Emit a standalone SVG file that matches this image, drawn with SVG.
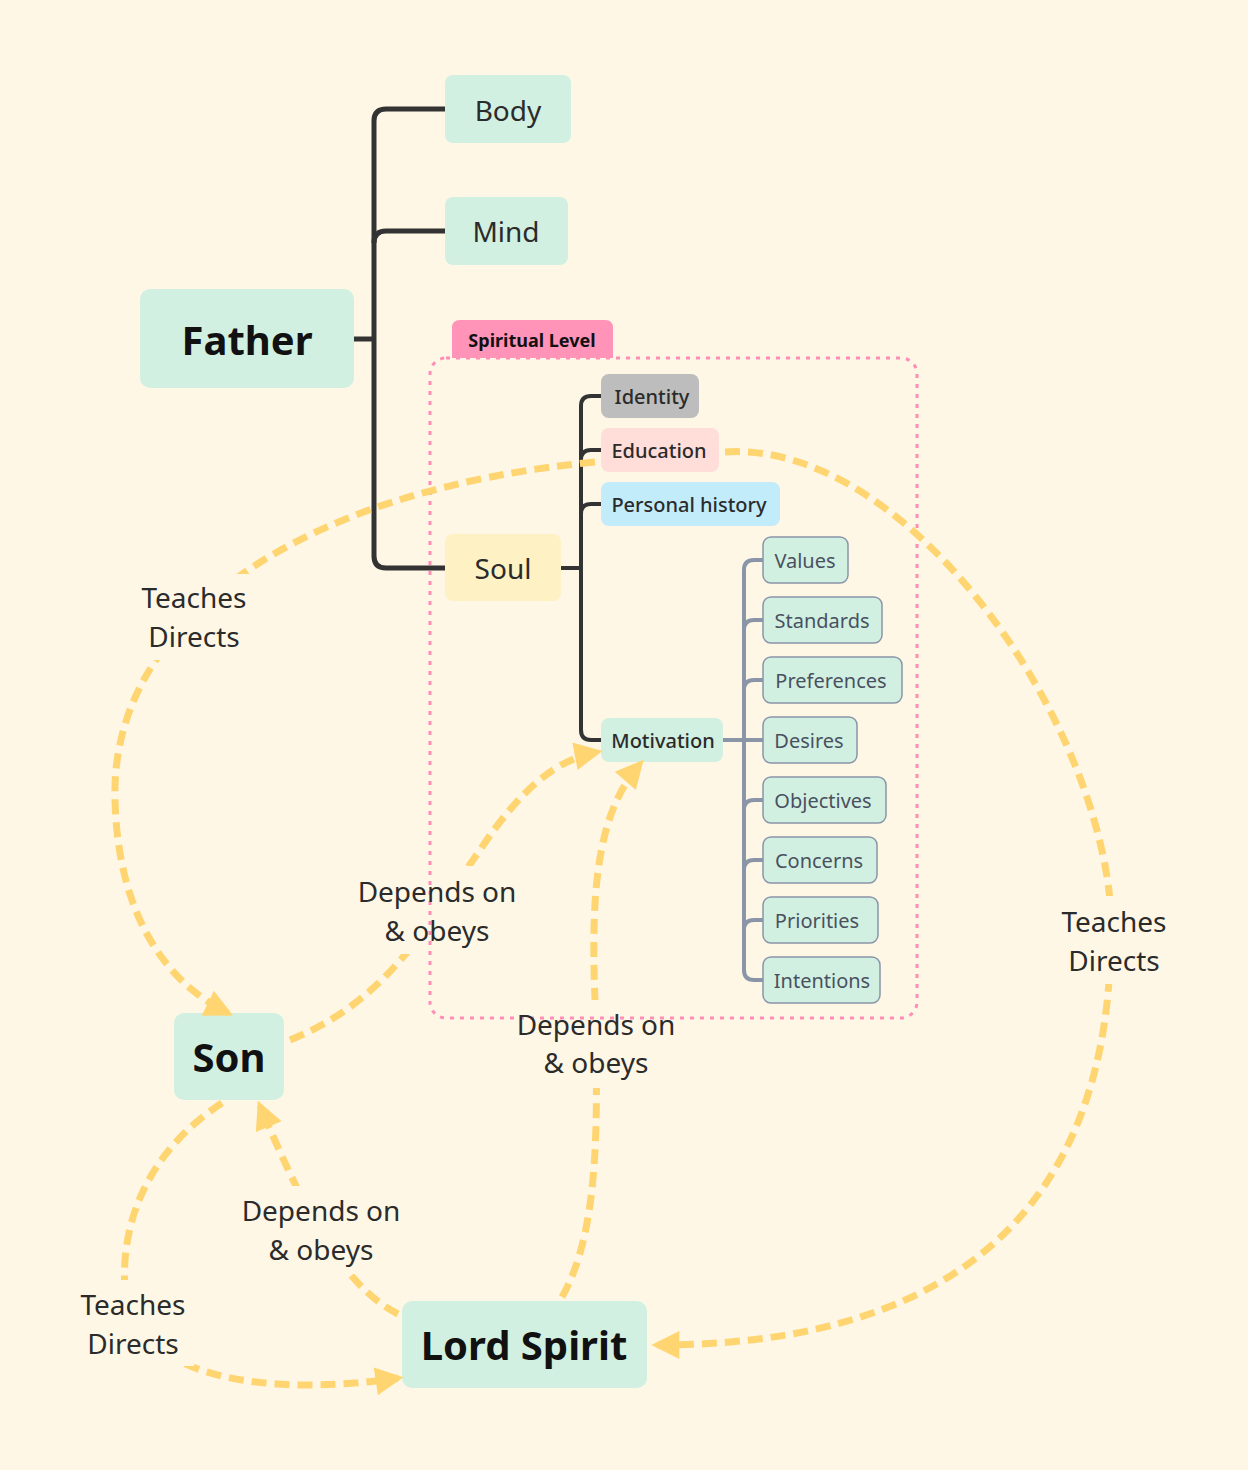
<svg xmlns="http://www.w3.org/2000/svg" width="1248" height="1470" viewBox="0 0 1248 1470">
<style>
text{font-family:"Noto Sans","Open Sans",sans-serif;text-anchor:middle;dominant-baseline:central;fill:#2b2b2b}
.main{fill:#D1F0E2}
.big{font-size:40px;font-weight:700;fill:#111}
.mid{font-size:28px}
.sm{font-size:20px;font-weight:500}
.leaf rect{fill:#D1F0E2;stroke:#8B95A8;stroke-width:1.5}
.leaf text{font-size:20px;fill:#4A5060}
.dk{fill:none;stroke:#333;stroke-width:5}
.dk2{fill:none;stroke:#333;stroke-width:4}
.gr{fill:none;stroke:#8B95A8;stroke-width:4}
.rel{fill:none;stroke:#FFD572;stroke-width:7;stroke-dasharray:15 8}
.lbl{font-size:28px;font-weight:400;fill:#2b2b2b}
</style>
<defs>
<marker id="ah" viewBox="0 0 10 10" refX="8" refY="5" markerWidth="32" markerHeight="28" markerUnits="userSpaceOnUse" orient="auto">
<path d="M0,0 L10,5 L0,10 z" fill="#FFD572"/>
</marker>
<mask id="lm" maskUnits="userSpaceOnUse" x="0" y="0" width="1248" height="1470">
<rect x="0" y="0" width="1248" height="1470" fill="#fff"/>
<rect x="130" y="574" width="128" height="86" fill="#000"/>
<rect x="350" y="866" width="175" height="88" fill="#000"/>
<rect x="508" y="1000" width="176" height="88" fill="#000"/>
<rect x="234" y="1186" width="176" height="88" fill="#000"/>
<rect x="72" y="1280" width="122" height="86" fill="#000"/>
<rect x="1052" y="896" width="124" height="88" fill="#000"/>
</mask>
</defs>
<rect x="0" y="0" width="1248" height="1470" fill="#FEF7E6"/>

<g id="boundary">
<rect x="430" y="358" width="487" height="660" rx="16" fill="none" stroke="#FF8DB5" stroke-width="3" stroke-dasharray="4 6"/>
<path d="M452,358 V328 Q452,320 460,320 H605 Q613,320 613,328 V358 Z" fill="#FF93B8"/>
<text x="532" y="340" style="font-size:18px;font-weight:700;fill:#111">Spiritual Level</text>
</g>

<g id="tree-connectors">
<path class="dk" d="M354,339 H374"/>
<path class="dk" d="M445,109 H386 Q374,109 374,121 V556 Q374,568 386,568 H445"/>
<path class="dk" d="M374,243 Q374,231 386,231 H445"/>
<path class="dk2" d="M561,568 H581"/>
<path class="dk2" d="M601,396 H591 Q581,396 581,406 V730 Q581,740 591,740 H601"/>
<path class="dk2" d="M581,460 Q581,450 591,450 H601"/>
<path class="dk2" d="M581,514 Q581,504 591,504 H601"/>
<path class="gr" d="M723,740 H763"/>
<path class="gr" d="M763,560 H754 Q744,560 744,570 V970 Q744,980 754,980 H763"/>
<path class="gr" d="M744,630 Q744,620 754,620 H763"/>
<path class="gr" d="M744,690 Q744,680 754,680 H763"/>
<path class="gr" d="M744,810 Q744,800 754,800 H763"/>
<path class="gr" d="M744,870 Q744,860 754,860 H763"/>
<path class="gr" d="M744,930 Q744,920 754,920 H763"/>
</g>

<g id="father"><rect class="main" x="140" y="289" width="214" height="99" rx="10"/><text class="big" x="247" y="339">Father</text></g>
<g id="body"><rect class="main" x="445" y="75" width="126" height="68" rx="8"/><text class="mid" x="508" y="110">Body</text></g>
<g id="mind"><rect class="main" x="445" y="197" width="123" height="68" rx="8"/><text class="mid" x="506" y="231">Mind</text></g>
<g id="soul"><rect x="445" y="534" width="116" height="67" rx="8" fill="#FEF2C4"/><text class="mid" x="503" y="568">Soul</text></g>
<g id="identity"><rect x="601" y="374" width="98" height="44" rx="8" fill="#BDBDBD"/><text class="sm" x="652" y="396">Identity</text></g>
<g id="education"><rect x="601" y="428" width="118" height="44" rx="8" fill="#FFDDD8"/><text class="sm" x="659" y="450">Education</text></g>
<g id="personal-history"><rect x="601" y="482" width="179" height="44" rx="8" fill="#C3ECFB"/><text class="sm" x="689" y="504">Personal history</text></g>
<g id="motivation"><rect class="main" x="601" y="718" width="122" height="44" rx="8"/><text class="sm" x="663" y="740">Motivation</text></g>

<g id="values" class="leaf"><rect x="763" y="537" width="85" height="46" rx="8"/><text x="805" y="560">Values</text></g>
<g id="standards" class="leaf"><rect x="763" y="597" width="119" height="46" rx="8"/><text x="822" y="620">Standards</text></g>
<g id="preferences" class="leaf"><rect x="763" y="657" width="139" height="46" rx="8"/><text x="831" y="680">Preferences</text></g>
<g id="desires" class="leaf"><rect x="763" y="717" width="94" height="46" rx="8"/><text x="809" y="740">Desires</text></g>
<g id="objectives" class="leaf"><rect x="763" y="777" width="123" height="46" rx="8"/><text x="823" y="800">Objectives</text></g>
<g id="concerns" class="leaf"><rect x="763" y="837" width="114" height="46" rx="8"/><text x="819" y="860">Concerns</text></g>
<g id="priorities" class="leaf"><rect x="763" y="897" width="115" height="46" rx="8"/><text x="817" y="920">Priorities</text></g>
<g id="intentions" class="leaf"><rect x="763" y="957" width="117" height="46" rx="8"/><text x="822" y="980">Intentions</text></g>

<g id="son"><rect class="main" x="174" y="1013" width="110" height="87" rx="10"/><text class="big" x="229" y="1056">Son</text></g>
<g id="lord-spirit"><rect class="main" x="402" y="1301" width="245" height="87" rx="10"/><text class="big" x="524" y="1344">Lord Spirit</text></g>

<g id="relations" mask="url(#lm)">
<path class="rel" marker-end="url(#ah)" d="M595,462 C300,490 110,620 115,800 C118,920 170,985 228,1013"/>
<path class="rel" marker-end="url(#ah)" d="M290,1040 C390,1000 430,920 480,850 C520,790 555,760 597,752"/>
<path class="rel" marker-end="url(#ah)" d="M562,1297 C600,1230 598,1120 595,1000 C590,880 600,810 640,764"/>
<path class="rel" marker-end="url(#ah)" d="M222,1103 C150,1150 120,1220 125,1290 C130,1370 250,1400 398,1378"/>
<path class="rel" marker-end="url(#ah)" d="M398,1314 C340,1285 300,1200 260,1106"/>
<path class="rel" marker-end="url(#ah)" d="M725,452 C900,440 1090,700 1110,900 C1120,1130 1030,1345 657,1345"/>
</g>
<g id="relation-labels">
<text class="lbl" x="194" y="597">Teaches</text><text class="lbl" x="194" y="636">Directs</text>
<text class="lbl" x="437" y="891">Depends on</text><text class="lbl" x="437" y="930">&amp; obeys</text>
<text class="lbl" x="596" y="1024">Depends on</text><text class="lbl" x="596" y="1062">&amp; obeys</text>
<text class="lbl" x="321" y="1210">Depends on</text><text class="lbl" x="321" y="1249">&amp; obeys</text>
<text class="lbl" x="133" y="1304">Teaches</text><text class="lbl" x="133" y="1343">Directs</text>
<text class="lbl" x="1114" y="921">Teaches</text><text class="lbl" x="1114" y="960">Directs</text>
</g>
</svg>
